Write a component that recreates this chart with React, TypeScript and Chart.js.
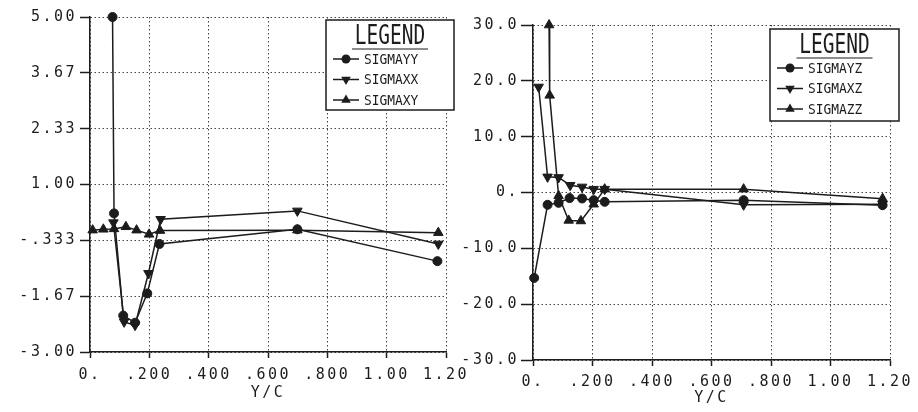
import React, { useEffect, useRef } from 'react';
import { Chart, registerables } from 'chart.js';

Chart.register(...registerables);

// ---------- data ----------
const xTicks = [0, 0.2, 0.4, 0.6, 0.8, 1.0, 1.2];
const xTickLabels = ['0.', '.200', '.400', '.600', '.800', '1.00', '1.20'];
const xTitle = 'Y/C';

const leftYTicks = [-3, -1.667, -0.333, 1, 2.333, 3.667, 5];
const leftYTickLabels = ['-3.00', '-1.67', '-.333', '1.00', '2.33', '3.67', '5.00'];
const rightYTicks = [-30, -20, -10, 0, 10, 20, 30];
const rightYTickLabels = ['-30.0', '-20.0', '-10.0', '0.', '10.0', '20.0', '30.0'];

// left panel
const sigmaYYx = [0.076, 0.081, 0.112, 0.152, 0.193, 0.234, 0.699, 1.171];
const sigmaYY = [5.0, 0.31, -2.13, -2.3, -1.6, -0.42, -0.07, -0.83];
const sigmaXXx = [0.079, 0.115, 0.152, 0.197, 0.238, 0.699, 1.174];
const sigmaXX = [0.09, -2.28, -2.36, -1.12, 0.17, 0.37, -0.42];
const sigmaXYx = [0.009, 0.045, 0.081, 0.121, 0.157, 0.199, 0.236, 0.699, 1.174];
const sigmaXY = [-0.09, -0.07, -0.06, -0.01, -0.09, -0.19, -0.1, -0.09, -0.15];

// right panel
const sigmaYZx = [0.004, 0.049, 0.086, 0.123, 0.165, 0.204, 0.241, 0.708, 1.175];
const sigmaYZ = [-15.3, -2.2, -1.85, -1.0, -1.07, -1.37, -1.67, -1.37, -2.27];
const sigmaXZx = [0.019, 0.049, 0.086, 0.125, 0.165, 0.204, 0.241, 0.708, 1.175];
const sigmaXZ = [18.9, 2.8, 2.7, 1.3, 1.0, 0.6, 0.6, -2.2, -2.1];
const sigmaZZx = [0.054, 0.056, 0.086, 0.12, 0.161, 0.204, 0.241, 0.708, 1.175];
const sigmaZZ = [30.0, 17.4, -0.6, -5.0, -5.1, -2.1, 0.6, 0.6, -1.1];

// ---------- styling ----------
const INK = '#1c1c1c';
const GRID = '#444';
const MONO = "'DejaVu Sans Mono', 'Liberation Mono', monospace";
const tickFont = { family: MONO, size: 15 };

const pts = (xs: number[], ys: number[]) => xs.map((x, i) => ({ x, y: ys[i] }));

const ds = (label: string, data: any[], style: string, rot: number, r: number) => ({
  label,
  data,
  borderColor: INK,
  backgroundColor: INK,
  borderWidth: 1.5,
  pointStyle: style,
  pointRotation: rot,
  pointRadius: r,
  pointBorderWidth: 1,
  pointBackgroundColor: INK,
  pointBorderColor: INK,
  tension: 0,
  clip: false,
});

const spacingPlugin = {
  id: 'spacing',
  beforeDraw(chart: any) {
    (chart.ctx as any).letterSpacing = '2.5px';
  },
};

function drawMarker(ctx: CanvasRenderingContext2D, style: string, rot: number, x: number, y: number) {
  ctx.beginPath();
  if (style === 'circle') {
    ctx.arc(x, y, 4.5, 0, Math.PI * 2);
  } else {
    const r = 5.5;
    let a = (rot * Math.PI) / 180;
    for (let k = 0; k < 3; k++) {
      const px = x + Math.sin(a) * r;
      const py = y - Math.cos(a) * r;
      if (k === 0) ctx.moveTo(px, py);
      else ctx.lineTo(px, py);
      a += (2 * Math.PI) / 3;
    }
    ctx.closePath();
  }
  ctx.fill();
}

const boxLegend = {
  id: 'boxLegend',
  afterDatasetsDraw(chart: any, _args: any, opts: any) {
    const { ctx, chartArea } = chart;
    const x0 = chartArea.right + opts.dx;
    const y0 = chartArea.top + opts.dy;
    const w = opts.w;
    const h = opts.h;
    ctx.save();
    (ctx as any).letterSpacing = '0px';
    ctx.fillStyle = '#fff';
    ctx.fillRect(x0, y0, w, h);
    ctx.strokeStyle = INK;
    ctx.lineWidth = 1.5;
    ctx.strokeRect(x0, y0, w, h);

    // title
    ctx.fillStyle = INK;
    ctx.textAlign = 'center';
    ctx.textBaseline = 'middle';
    ctx.save();
    ctx.translate(x0 + w / 2, y0 + 17);
    ctx.scale(0.78, 1.05);
    ctx.font = `25px ${MONO}`;
    ctx.fillText(opts.title, 0, 0);
    ctx.restore();
    ctx.lineWidth = 1.2;
    ctx.beginPath();
    ctx.moveTo(x0 + w / 2 - 38, y0 + 29);
    ctx.lineTo(x0 + w / 2 + 38, y0 + 29);
    ctx.stroke();

    chart.data.datasets.forEach((d: any, i: number) => {
      const cy = y0 + 39 + 20.5 * i;
      ctx.lineWidth = 1.5;
      ctx.beginPath();
      ctx.moveTo(x0 + 7, cy);
      ctx.lineTo(x0 + 33, cy);
      ctx.stroke();
      drawMarker(ctx, d.pointStyle, d.pointRotation, x0 + 20, cy);
      ctx.save();
      ctx.translate(x0 + 38, cy);
      ctx.scale(0.92, 1.05);
      ctx.font = `14px ${MONO}`;
      ctx.textAlign = 'left';
      ctx.textBaseline = 'middle';
      ctx.fillText(d.label, 0, 1);
      ctx.restore();
    });
    ctx.restore();
  },
};

function makeScales(cfg: any) {
  return {
    x: {
      type: 'linear',
      min: 0,
      max: 1.2,
      afterBuildTicks: (s: any) => {
        s.ticks = xTicks.map((v) => ({ value: v }));
      },
      afterFit: (s: any) => {
        s.height = cfg.xHeight;
        s.paddingLeft = 0;
        s.paddingRight = 0;
      },
      ticks: {
        autoSkip: false,
        maxRotation: 0,
        minRotation: 0,
        padding: cfg.xPad,
        color: INK,
        font: tickFont,
        callback: (_v: any, i: number) => xTickLabels[i],
      },
      grid: {
        color: GRID,
        lineWidth: 1,
        drawTicks: true,
        tickLength: 6,
        tickColor: INK,
        tickWidth: 1.5,
      },
      border: { display: true, color: INK, width: 1.5, dash: [1.5, 2.5] },
      title: {
        display: true,
        text: xTitle,
        color: INK,
        font: tickFont,
        padding: { top: 0, bottom: cfg.titlePad },
      },
    },
    y: {
      type: 'linear',
      min: cfg.yMin,
      max: cfg.yMax,
      afterBuildTicks: (s: any) => {
        s.ticks = cfg.yTicks.map((v: number) => ({ value: v }));
      },
      afterFit: (s: any) => {
        s.width = cfg.yWidth;
        s.paddingTop = 0;
        s.paddingBottom = 0;
      },
      ticks: {
        autoSkip: false,
        padding: cfg.yPad,
        color: INK,
        font: tickFont,
        callback: (_v: any, i: number) => cfg.yLabels[i],
      },
      grid: {
        color: GRID,
        lineWidth: 1,
        drawTicks: true,
        tickLength: cfg.yTickLen,
        tickColor: INK,
        tickWidth: 1.5,
      },
      border: { display: true, color: INK, width: 1.5, dash: [1.5, 2.5] },
    },
  };
}

function PanelChart(props: { datasets: any[]; scales: any; padding: any; legend: any }) {
  const ref = useRef<HTMLCanvasElement | null>(null);
  useEffect(() => {
    if (!ref.current) return;
    const chart = new Chart(ref.current, {
      type: 'line',
      data: { datasets: props.datasets },
      options: {
        responsive: false,
        animation: false,
        events: [],
        layout: { padding: props.padding },
        scales: props.scales,
        plugins: {
          legend: { display: false },
          tooltip: { enabled: false },
          boxLegend: props.legend,
        } as any,
      },
      plugins: [spacingPlugin, boxLegend],
    } as any);
    return () => chart.destroy();
  }, []);
  return (
    <canvas
      ref={ref}
      width={918}
      height={412}
      style={{ position: 'absolute', left: 0, top: 0, width: 918, height: 412 }}
    />
  );
}

export default function App() {
  const leftDatasets = [
    ds('SIGMAYY', pts(sigmaYYx, sigmaYY), 'circle', 0, 4.5),
    ds('SIGMAXX', pts(sigmaXXx, sigmaXX), 'triangle', 180, 5.5),
    ds('SIGMAXY', pts(sigmaXYx, sigmaXY), 'triangle', 0, 5.5),
  ];
  const rightDatasets = [
    ds('SIGMAYZ', pts(sigmaYZx, sigmaYZ), 'circle', 0, 4.5),
    ds('SIGMAXZ', pts(sigmaXZx, sigmaXZ), 'triangle', 180, 5.5),
    ds('SIGMAZZ', pts(sigmaZZx, sigmaZZ), 'triangle', 0, 5.5),
  ];
  const leftScales = makeScales({
    yMin: -3, yMax: 5, yTicks: leftYTicks, yLabels: leftYTickLabels,
    yWidth: 90, xHeight: 60, xPad: 8, titlePad: 10, yPad: 3, yTickLen: 10,
  });
  const rightScales = makeScales({
    yMin: -30, yMax: 30, yTicks: rightYTicks, yLabels: rightYTickLabels,
    yWidth: 83, xHeight: 52, xPad: 7, titlePad: 5, yPad: 2, yTickLen: 12,
  });
  return (
    <div style={{ position: 'absolute', left: 0, top: 0, width: 918, height: 412, background: '#fff' }}>
      <PanelChart
        datasets={leftDatasets}
        scales={leftScales}
        padding={{ left: 0, right: 472, top: 17, bottom: 0 }}
        legend={{ title: 'LEGEND', dx: -120, dy: 3, w: 128, h: 90 }}
      />
      <PanelChart
        datasets={rightDatasets}
        scales={rightScales}
        padding={{ left: 450, right: 28, top: 25, bottom: 0 }}
        legend={{ title: 'LEGEND', dx: -120, dy: 4, w: 129, h: 92 }}
      />
    </div>
  );
}
